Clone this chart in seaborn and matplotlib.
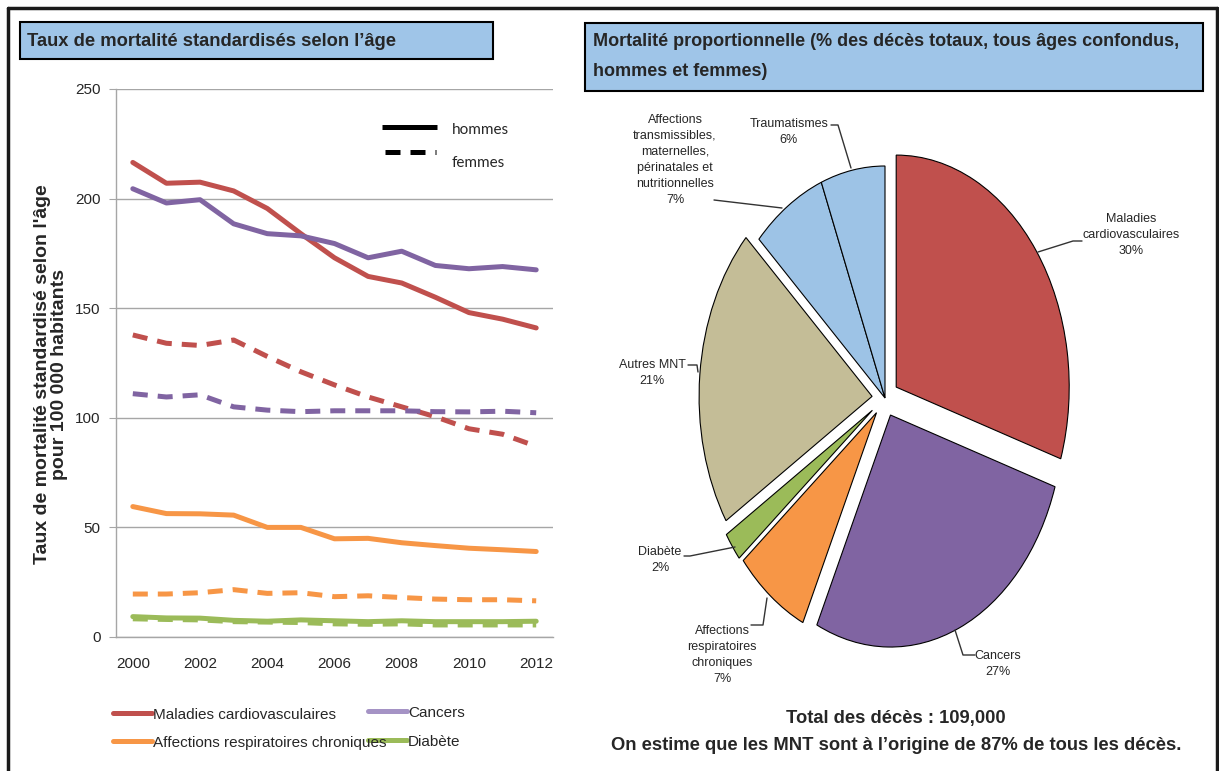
import pandas as pd
import matplotlib.pyplot as plt
import seaborn as sns
from matplotlib.lines import Line2D
from matplotlib.patches import Rectangle

sns.set_style("white")
plt.rcParams['font.family'] = ['Liberation Sans Narrow', 'Liberation Sans', 'DejaVu Sans']

# Load data
years = list(range(2000, 2013))

cvd_h = [216.5, 207, 207.5, 203.5, 195.5, 184, 173, 164.5, 161.5, 155, 148, 145, 141]
cvd_f = [137.8, 134, 133, 135.5, 128, 121, 115, 109.5, 105, 100.5, 95, 92.5, 87]
can_h = [204.5, 198, 199.5, 188.5, 184, 183, 179.5, 173, 176, 169.5, 168, 169, 167.5]
can_f = [111, 109.5, 110.5, 105, 103.5, 102.8, 103.2, 103.2, 103.2, 102.8, 102.7, 103, 102.3]
resp_h = [59.5, 56.3, 56.2, 55.6, 50, 50, 44.8, 45, 43, 41.7, 40.5, 39.8, 39]
resp_f = [19.6, 19.6, 20.2, 21.6, 19.9, 20.2, 18.4, 18.8, 18, 17.3, 17, 17, 16.5]
diab_h = [9.3, 8.7, 8.6, 7.6, 7.2, 7.8, 7.4, 7, 7.4, 7, 7, 7, 7.2]
diab_f = [8.3, 8, 7.8, 7, 6.8, 6.6, 6, 5.8, 6, 5.5, 5.5, 5.5, 5.5]

causes = ["Maladies cardiovasculaires", "Cancers",
          "Affections respiratoires chroniques", "Diabète"]
cause_colors = ["#C0504D", "#8064A2", "#F79646", "#9BBB59"]
legend_colors = ["#C0504D", "#A593C5", "#F79646", "#9BBB59"]

pie_labels = [
    "Maladies\ncardiovasculaires\n30%",
    "Cancers\n27%",
    "Affections\nrespiratoires\nchroniques\n7%",
    "Diabète\n2%",
    "Autres MNT\n21%",
    "Affections\ntransmissibles,\nmaternelles,\npérinatales et\nnutritionnelles\n7%",
    "Traumatismes\n6%",
]
pie_shares = [30, 27, 7, 2, 21, 7, 6]
pie_colors = ["#C0504D", "#8064A2", "#F79646", "#9BBB59", "#C4BD97", "#9DC3E6", "#9DC3E6"]
pie_explode = [0.08, 0.08, 0.08, 0.09, 0.075, 0, 0]

rows = []
series = {
    ("Maladies cardiovasculaires", "hommes"): cvd_h,
    ("Maladies cardiovasculaires", "femmes"): cvd_f,
    ("Cancers", "hommes"): can_h,
    ("Cancers", "femmes"): can_f,
    ("Affections respiratoires chroniques", "hommes"): resp_h,
    ("Affections respiratoires chroniques", "femmes"): resp_f,
    ("Diabète", "hommes"): diab_h,
    ("Diabète", "femmes"): diab_f,
}
for (cause, sexe), vals in series.items():
    for yr, v in zip(years, vals):
        rows.append({"annee": yr, "taux": v, "cause": cause, "sexe": sexe})
df = pd.DataFrame(rows)

W, H = 1219, 771
fig = plt.figure(figsize=(W / 100, H / 100), dpi=100)


def fx(x):
    return x / W


def fy(y):
    return 1 - y / H


# ==========================================
# FRAME AND HEADERS
# ==========================================

frame_kw = dict(color="#1a1a1a", linewidth=2.5, transform=fig.transFigure)
fig.add_artist(Line2D([fx(8), fx(1217)], [fy(8), fy(8)], **frame_kw))
fig.add_artist(Line2D([fx(8), fx(8)], [fy(8), 0], **frame_kw))
fig.add_artist(Line2D([fx(1217), fx(1217)], [fy(8), 0], **frame_kw))

header_blue = "#9FC5E8"
fig.add_artist(Rectangle((fx(20), fy(59)), (493 - 20) / W, (59 - 22) / H,
                         facecolor=header_blue, edgecolor="black", linewidth=1.5,
                         transform=fig.transFigure))
fig.text(fx(27), fy(41), "Taux de mortalité standardisés selon l\u2019âge",
         fontsize=13.2, fontweight="bold", va="center", ha="left")

fig.add_artist(Rectangle((fx(585), fy(91)), (1203 - 585) / W, (91 - 23) / H,
                         facecolor=header_blue, edgecolor="black", linewidth=1.5,
                         transform=fig.transFigure))
fig.text(fx(593), fy(42), "Mortalité proportionnelle (% des décès totaux, tous âges confondus,",
         fontsize=13, fontweight="bold", va="center", ha="left")
fig.text(fx(593), fy(71), "hommes et femmes)",
         fontsize=13, fontweight="bold", va="center", ha="left")

# ==========================================
# 1. LINE CHART
# ==========================================

ax1 = fig.add_axes([fx(116), fy(637), 437 / W, 548 / H])

sns.lineplot(
    data=df,
    x="annee",
    y="taux",
    hue="cause",
    style="sexe",
    hue_order=causes,
    style_order=["hommes", "femmes"],
    palette=cause_colors,
    dashes={"hommes": "", "femmes": (3, 2)},
    linewidth=3.6,
    legend=False,
    ax=ax1,
)

ax1.set_xlim(1999.5, 2012.5)
ax1.set_ylim(0, 250)
ax1.set_yticks(range(0, 251, 50))
ax1.set_xticks(range(2000, 2013, 2))
ax1.yaxis.grid(True, color="#A6A6A6", linewidth=1)
ax1.set_axisbelow(True)
for s in ["top", "right"]:
    ax1.spines[s].set_visible(False)
for s in ["left", "bottom"]:
    ax1.spines[s].set_color("#A6A6A6")
    ax1.spines[s].set_linewidth(1)
ax1.tick_params(axis="y", left=True, length=5, color="#A6A6A6", labelsize=11, pad=6)
ax1.tick_params(axis="x", bottom=False, labelsize=11, pad=11)
ax1.set_xlabel("")
ax1.set_ylabel("")

fig.text(fx(51), fy(374),
         "Taux de mortalité standardisé selon l'âge\npour 100 000 habitants",
         rotation=90, ha="center", va="center", fontsize=14, fontweight="bold",
         family=["Liberation Sans", "DejaVu Sans"], linespacing=0.95)

# hommes / femmes key
fig.add_artist(Line2D([fx(382), fx(437)], [fy(127), fy(127)], color="black",
                      linewidth=3.6, transform=fig.transFigure, solid_capstyle="butt"))
fig.add_artist(Line2D([fx(385), fx(436)], [fy(152), fy(152)], color="black",
                      linewidth=3.6, dashes=(3, 2), transform=fig.transFigure,
                      dash_capstyle="butt"))
fig.text(fx(452), fy(130), "hommes", fontsize=11, family=["Lato", "DejaVu Sans"],
         va="center", ha="left")
fig.text(fx(452), fy(163), "femmes", fontsize=11, family=["Lato", "DejaVu Sans"],
         va="center", ha="left")

# bottom legend
leg_pos = [(113, 713), (368, 711), (113, 741), (368, 740)]
for (lx, ly), name, col in zip(leg_pos, causes, legend_colors):
    fig.add_artist(Line2D([fx(lx), fx(lx + 39)], [fy(ly), fy(ly)], color=col,
                          linewidth=3.6, transform=fig.transFigure))
    fig.text(fx(lx + 40), fy(ly + 2), name, fontsize=11, va="center", ha="left")

# ==========================================
# 2. PIE CHART
# ==========================================

ax2 = fig.add_axes([fx(600), fy(700), 600 / W, 600 / H])
cx, cy, rx, ry = 885, 398, 173, 232

ax2.pie(
    pie_shares,
    colors=pie_colors,
    explode=pie_explode,
    startangle=90,
    counterclock=False,
    wedgeprops=dict(edgecolor="black", linewidth=0.8),
)
ax2.set_aspect("auto")
ax2.set_xlim((600 - cx) / rx, (1200 - cx) / rx)
ax2.set_ylim(-(700 - cy) / ry, (cy - 100) / ry)
ax2.axis("off")

# labels and leader lines (pixel positions)
label_pos = [(1131, 235), (998, 664), (722, 655), (660, 560),
             (652, 373), (675, 160), (789, 132)]
leaders = [
    [(1038, 252), (1073, 241), (1082, 241)],
    [(955, 630), (963, 655), (975, 655)],
    [(767, 598), (763, 625), (751, 625)],
    [(735, 547), (690, 556), (684, 556)],
    [(698, 372), (697, 365), (688, 365)],
    [(782, 208), (714, 200)],
    [(851, 168), (838, 125), (831, 125)],
]
for (tx, ty), lab in zip(label_pos, pie_labels):
    fig.text(fx(tx), fy(ty), lab, fontsize=9, ha="center", va="center",
             linespacing=1.45)
for pts in leaders:
    fig.add_artist(Line2D([fx(p[0]) for p in pts], [fy(p[1]) for p in pts],
                          color="#333333", linewidth=1, transform=fig.transFigure))

fig.text(fx(896), fy(719), "Total des décès : 109,000", fontsize=13.2,
         fontweight="bold", ha="center", va="center")
fig.text(fx(896), fy(746),
         "On estime que les MNT sont à l\u2019origine de 87% de tous les décès.",
         fontsize=13.2, fontweight="bold", ha="center", va="center")

plt.savefig("out.png", dpi=100)
plt.close()

print("out.png created")
